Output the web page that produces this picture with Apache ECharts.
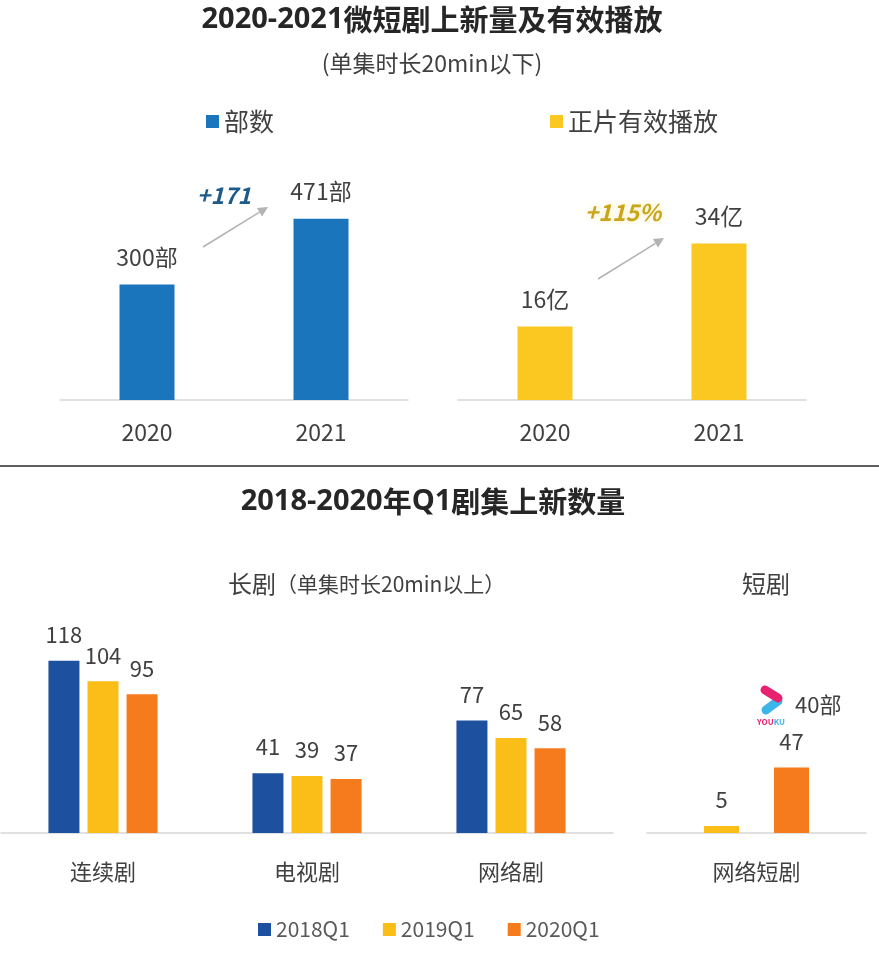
<!DOCTYPE html>
<html><head><meta charset="utf-8">
<script src="https://cdn.jsdelivr.net/npm/echarts@6/dist/echarts.min.js"></script>
<style>html,body{margin:0;padding:0;background:#fff}#c{width:879px;height:955px}</style>
</head><body><div id="c"></div>
<script>
const yearCats = ['2020', '2021'];
const partsValues = [300, 471];
const playValues = [16, 34];
const longCats = ['连续剧', '电视剧', '网络剧'];
const long2018 = [118, 41, 77];
const long2019 = [104, 39, 65];
const long2020 = [95, 37, 58];
const shortCats = ['网络短剧'];
const short2019 = [5];
const short2020 = [47];
const quarterNames = ['2018Q1', '2019Q1', '2020Q1'];

const FONT = '"Noto Sans CJK SC", "Noto Sans", sans-serif';
const LATIN = '"Open Sans", "Noto Sans", sans-serif';
const C_TOPBLUE = '#1b75bc', C_TOPYEL = '#fac820';
const C_BLUE = '#1e50a0', C_YEL = '#fbbd18', C_ORG = '#f67b1c';

const catAxis = (gi, data, margin, fs) => ({
  type: 'category', gridIndex: gi, data: data,
  axisLine: { lineStyle: { color: '#d6d6d6', width: 1.5 } },
  axisTick: { show: false },
  axisLabel: { fontSize: fs, color: '#404040', margin: margin, fontFamily: FONT }
});
const valAxis = (gi, max) => ({ type: 'value', gridIndex: gi, min: 0, max: max, show: false, splitLine: { show: false } });
const lbl = (fmt, dist, fs) => ({ show: true, position: 'top', distance: dist, fontSize: fs, color: '#404040', fontFamily: FONT, formatter: fmt });

const chart = echarts.init(document.getElementById('c'));
chart.setOption({
  animation: false,
  backgroundColor: '#fff',
  textStyle: { fontFamily: FONT },
  grid: [
    { left: 60, width: 348, top: 169, height: 231 },
    { left: 458, width: 348, top: 170, height: 230 },
    { left: 1, width: 612, top: 614, height: 219 },
    { left: 647, width: 219, top: 614, height: 219 }
  ],
  xAxis: [
    catAxis(0, yearCats, 21, 23),
    catAxis(1, yearCats, 21, 23),
    catAxis(2, longCats, 28, 22),
    catAxis(3, shortCats, 28, 22)
  ],
  yAxis: [valAxis(0, 600), valAxis(1, 50), valAxis(2, 150), valAxis(3, 157)],
  legend: [
    { data: ['部数'], left: 206, top: 109, padding: 0, icon: 'rect', itemWidth: 13, itemHeight: 13,
      textStyle: { fontSize: 25, color: '#404040', fontFamily: FONT } },
    { data: ['正片有效播放'], left: 550, top: 109, padding: 0, icon: 'rect', itemWidth: 13, itemHeight: 13,
      textStyle: { fontSize: 25, color: '#404040', fontFamily: FONT } },
    { data: quarterNames, left: 258, top: 919, padding: 0, icon: 'rect', itemWidth: 13, itemHeight: 13, itemGap: 33,
      textStyle: { fontSize: 21, color: '#595959', fontFamily: FONT } }
  ],
  series: [
    { name: '部数', type: 'bar', xAxisIndex: 0, yAxisIndex: 0, data: partsValues, barWidth: 55,
      itemStyle: { color: C_TOPBLUE }, label: lbl('{c}部', 16, 23) },
    { name: '正片有效播放', type: 'bar', xAxisIndex: 1, yAxisIndex: 1, data: playValues, barWidth: 55,
      itemStyle: { color: C_TOPYEL }, label: lbl('{c}亿', 16, 23) },
    { name: quarterNames[0], type: 'bar', xAxisIndex: 2, yAxisIndex: 2, data: long2018, barWidth: 31, barGap: '26%',
      itemStyle: { color: C_BLUE }, label: lbl('{c}', 15, 22) },
    { name: quarterNames[1], type: 'bar', xAxisIndex: 2, yAxisIndex: 2, data: long2019, barWidth: 31, barGap: '26%',
      itemStyle: { color: C_YEL }, label: lbl('{c}', 15, 22) },
    { name: quarterNames[2], type: 'bar', xAxisIndex: 2, yAxisIndex: 2, data: long2020, barWidth: 31, barGap: '26%',
      itemStyle: { color: C_ORG }, label: lbl('{c}', 15, 22) },
    { name: quarterNames[1], type: 'bar', xAxisIndex: 3, yAxisIndex: 3, data: short2019, barWidth: 35, barGap: '100%',
      itemStyle: { color: C_YEL }, label: lbl('{c}', 15, 22) },
    { name: quarterNames[2], type: 'bar', xAxisIndex: 3, yAxisIndex: 3, data: short2020, barWidth: 35, barGap: '100%',
      itemStyle: { color: C_ORG }, label: lbl('{c}', 15, 22) }
  ],
  graphic: [
    { type: 'text', x: 432, y: 20, style: { text: '{a|2020-2021}{b|微短剧上新量及有效播放}', align: 'center', verticalAlign: 'middle',
        rich: { a: { fontSize: 29, fontWeight: 'bold', fontFamily: LATIN, fill: '#262626' }, b: { fontSize: 29, fontWeight: 'bold', fontFamily: FONT, fill: '#262626' } } } },
    { type: 'text', x: 432, y: 63, style: { text: '(单集时长20min以下)', font: '23px ' + FONT, fill: '#404040', align: 'center', verticalAlign: 'middle' } },
    { type: 'line', shape: { x1: 0, y1: 466, x2: 879, y2: 466 }, style: { stroke: '#5e5e5e', lineWidth: 2 } },
    { type: 'text', x: 433, y: 502, style: { text: '{a|2018-2020}{b|年}{a|Q1}{b|剧集上新数量}', align: 'center', verticalAlign: 'middle',
        rich: { a: { fontSize: 29, fontWeight: 'bold', fontFamily: LATIN, fill: '#262626' }, b: { fontSize: 29, fontWeight: 'bold', fontFamily: FONT, fill: '#262626' } } } },
    { type: 'text', x: 228, y: 584, style: { text: '{a|长剧}{b|（单集时长20min以上）}', align: 'left', verticalAlign: 'middle',
        rich: { a: { fontSize: 24, fill: '#404040', fontFamily: FONT }, b: { fontSize: 21, fill: '#404040', fontFamily: FONT } } } },
    { type: 'text', x: 766, y: 584, style: { text: '短剧', font: '24px ' + FONT, fill: '#404040', align: 'center', verticalAlign: 'middle' } },
    { type: 'text', x: 224, y: 195, style: { text: '+171', font: 'italic bold 23px ' + FONT, fill: '#1d5b8c', align: 'center', verticalAlign: 'middle' } },
    { type: 'line', shape: { x1: 203, y1: 247, x2: 259.5, y2: 212.2 }, style: { stroke: '#b3b3b3', lineWidth: 1.5 } },
    { type: 'polygon', shape: { points: [[268, 207], [262.1, 216.5], [256.9, 208.0]] }, style: { fill: '#b3b3b3' } },
    { type: 'text', x: 623, y: 212, style: { text: '+115%', font: 'italic bold 23px ' + FONT, fill: '#c8a51a', align: 'center', verticalAlign: 'middle',
        textShadowColor: 'rgba(250,225,140,0.7)', textShadowBlur: 6 } },
    { type: 'line', shape: { x1: 598, y1: 279, x2: 655.5, y2: 243.3 }, style: { stroke: '#b3b3b3', lineWidth: 1.5 } },
    { type: 'polygon', shape: { points: [[664, 238], [658.1, 247.5], [652.9, 239.1]] }, style: { fill: '#b3b3b3' } },
    { type: 'line', shape: { x1: 766, y1: 710, x2: 778, y2: 701 }, style: { stroke: '#3cb5e8', lineWidth: 9, lineCap: 'round' } },
    { type: 'line', shape: { x1: 765, y1: 690, x2: 778, y2: 698 }, style: { stroke: '#e8226f', lineWidth: 9, lineCap: 'round' } },
    { type: 'text', x: 771, y: 722, style: { text: '{p|YOU}{q|KU}', align: 'center', verticalAlign: 'middle',
        rich: { p: { fontSize: 8, fontWeight: 'bold', fill: '#e8226f', fontFamily: FONT }, q: { fontSize: 8, fontWeight: 'bold', fill: '#3cb5e8', fontFamily: FONT } } } },
    { type: 'text', x: 795, y: 705, style: { text: '40部', font: '22px ' + FONT, fill: '#404040', align: 'left', verticalAlign: 'middle' } }
  ]
});
</script></body></html>
